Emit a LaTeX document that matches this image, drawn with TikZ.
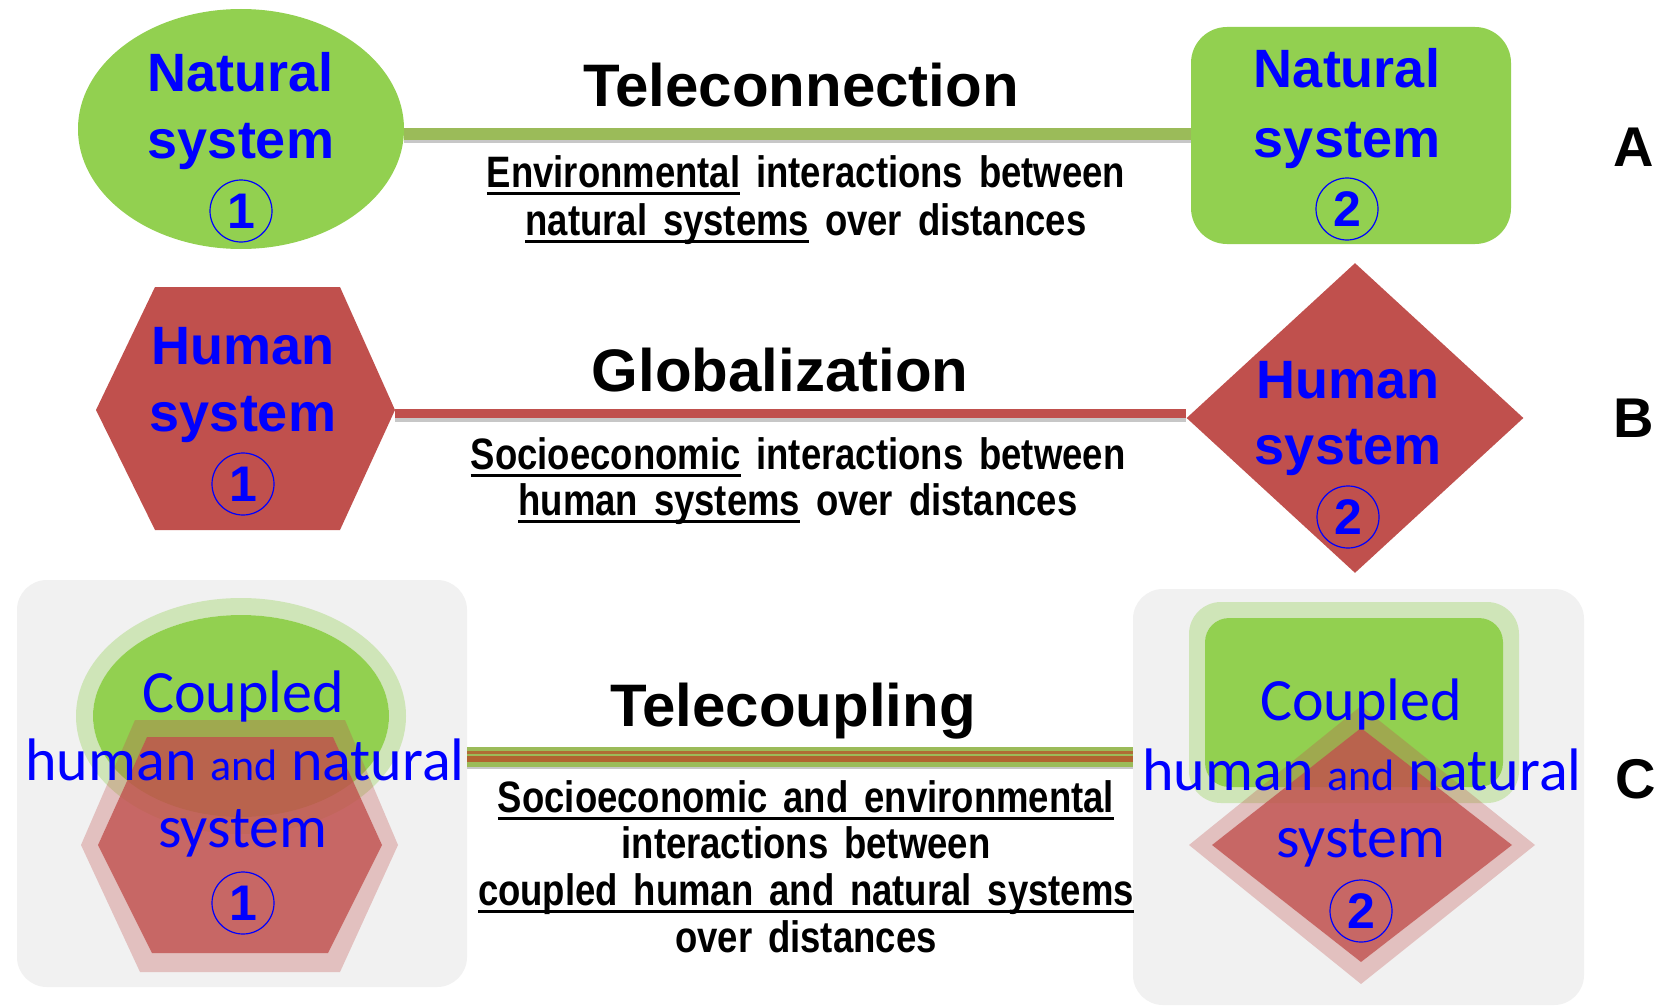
\documentclass[tikz,border=0pt]{standalone}
\usepackage{fontspec}
\setmainfont{Liberation Sans}
\newfontfamily\descfont{Liberation Sans}[FakeStretch=0.83]
\newfontfamily\calfont{Carlito}
\usetikzlibrary{shapes.geometric,backgrounds}
\definecolor{natgreen}{HTML}{92D050}
\definecolor{linegreen}{HTML}{9BBB59}
\definecolor{humred}{HTML}{C0504D}
\definecolor{boxgray}{HTML}{F1F1F1}
\definecolor{txtblue}{HTML}{0000FF}
\definecolor{brownline}{HTML}{B45A2C}
\newcommand{\ulx}[1]{\setbox0\hbox{#1}\rlap{\rule[-4pt]{\wd0}{1.3pt}}\box0\relax}
\newcommand{\widesp}{\spaceskip=0.36em\relax}
\newcommand{\descsize}{\descfont\bfseries\fontsize{22}{22}\selectfont\widesp}
\begin{document}
\begin{tikzpicture}[x=0.5pt,y=-0.5pt,
  sysl/.style={font=\bfseries\fontsize{27}{27}\selectfont, text=txtblue, anchor=base, inner sep=0},
  cpl/.style={font=\calfont\fontsize{30}{30}\selectfont, text=txtblue, anchor=base, inner sep=0},
  cnum/.style={circle, draw=txtblue, line width=0.6pt, minimum size=31pt, inner sep=0, text=txtblue, font=\bfseries\fontsize{25}{25}\selectfont},
  ttl/.style={font=\bfseries\fontsize{30}{30}\selectfont, anchor=base, inner sep=0},
  desc/.style={font=\descsize, anchor=base, inner sep=0},
  tag/.style={font=\bfseries\fontsize{28}{28}\selectfont, anchor=center, inner sep=0},
  shadowline/.style={black!22, line width=3pt}
]
\useasboundingbox (0,0) rectangle (1680,1006);
\begin{pgfonlayer}{background}
\fill[white] (0,0) rectangle (1680,1006);
\end{pgfonlayer}

% ---------- Row A ----------
\node[ellipse, fill=natgreen, minimum width=163pt, minimum height=120pt, inner sep=0] (natA1) at (241,129) {};
\node[rectangle, rounded corners=18pt, fill=natgreen, minimum width=160pt, minimum height=108.5pt, inner sep=0] (natA2) at (1351,135.5) {};
\coordinate (lineA) at (0,134);
\coordinate (lineAs) at (0,140);
\begin{pgfonlayer}{background}
\draw[shadowline] (natA1.east |- lineAs) -- (natA2.west |- lineAs);
\draw[linegreen, line width=5.5pt] (natA1.east |- lineA) -- (natA2.west |- lineA);
\end{pgfonlayer}
\node[sysl] (tA1a) at (241,92) {Natural};
\node[sysl] (tA1b) at (241,158) {system};
\node[cnum] (cA1) at (241,211) {1};
\node[sysl] (tA2a) at (1347,88) {Natural};
\node[sysl] (tA2b) at (1347,157) {system};
\node[cnum] (cA2) at (1347,209) {2};
\node[ttl] (ttlA) at (801,107) {Teleconnection};
\node[desc] (dA1) at (806,187) {\ulx{Environmental} interactions between};
\node[desc] (dA2) at (806,235) {\ulx{natural systems} over distances};
\node[tag] (labA) at (1634,147) {A};

% ---------- Row B ----------
\fill[humred] (155,287) -- (340,287) -- (395,410) -- (340,530) -- (155,530) -- (96,410) -- cycle;
\coordinate (hexB) at (395,410);
\node[shape=diamond, fill=humred, minimum width=168.5pt, minimum height=155pt, inner sep=0] (dmB) at (1355,418) {};
\coordinate (lineB) at (0,413);
\coordinate (lineBs) at (0,419);
\begin{pgfonlayer}{background}
\draw[shadowline] (hexB |- lineBs) -- (dmB.west |- lineBs);
\draw[humred, line width=4.5pt] (hexB |- lineB) -- (dmB.west |- lineB);
\end{pgfonlayer}
\node[sysl] (tB1a) at (243,364) {Human};
\node[sysl] (tB1b) at (243,431) {system};
\node[cnum] (cB1) at (243,484) {1};
\node[sysl] (tB2a) at (1348,398) {Human};
\node[sysl] (tB2b) at (1348,464) {system};
\node[cnum] (cB2) at (1348,517) {2};
\node[ttl] (ttlB) at (780,391) {Globalization};
\node[desc] (dB1) at (798,469) {\ulx{Socioeconomic} interactions between};
\node[desc] (dB2) at (798,515) {\ulx{human systems} over distances};
\node[tag] (labB) at (1634,418) {B};

% ---------- Row C ----------
\node[rectangle, rounded corners=15pt, fill=boxgray, minimum width=225pt, minimum height=203.5pt, inner sep=0] (boxL) at (242,783.5) {};
\node[rectangle, rounded corners=15pt, fill=boxgray, minimum width=225.5pt, minimum height=208pt, inner sep=0] (boxR) at (1358.5,797) {};
\coordinate (lineC) at (0,757);
\coordinate (lineC1) at (0,752);
\coordinate (lineC2) at (0,759);
\coordinate (lineCs) at (0,766);
\draw[shadowline] (boxL.east |- lineCs) -- (boxR.west |- lineCs);
\draw[linegreen, line width=10pt] (boxL.east |- lineC) -- (boxR.west |- lineC);
\draw[brownline, line width=1.5pt, opacity=0.8] (boxL.east |- lineC1) -- (boxR.west |- lineC1);
\draw[brownline, line width=3pt, opacity=0.9] (boxL.east |- lineC2) -- (boxR.west |- lineC2);

% left coupled system
\fill[natgreen, opacity=0.35, even odd rule] (241,716) ellipse [x radius=165, y radius=118] (241,716) ellipse [x radius=148, y radius=101];
\fill[natgreen] (241,716) ellipse [x radius=148, y radius=101];
\fill[humred, opacity=0.3, even odd rule]
  (135,720) -- (345,720) -- (398,845) -- (340,972) -- (140,972) -- (81,845) -- cycle
  (147,737) -- (333,737) -- (382,845) -- (328,953) -- (152,953) -- (98,845) -- cycle;
\fill[humred, opacity=0.85] (147,737) -- (333,737) -- (382,845) -- (328,953) -- (152,953) -- (98,845) -- cycle;

% right coupled system
\fill[natgreen, opacity=0.35, even odd rule, rounded corners=16pt] (1189,602) rectangle (1519,803) [rounded corners=12pt] (1205,618) rectangle (1503,787);
\fill[natgreen, rounded corners=12pt] (1205,618) rectangle (1503,787);
\fill[humred, opacity=0.3, even odd rule]
  (1361,706) -- (1535,845) -- (1361,984) -- (1189,845) -- cycle
  (1361,728) -- (1512,845) -- (1361,962) -- (1212,845) -- cycle;
\fill[humred, opacity=0.85] (1361,728) -- (1512,845) -- (1361,962) -- (1212,845) -- cycle;

\node[cpl] (tC1a) at (243,712) {Coupled};
\node[cpl] (tC1b) at (245,780) {human {\fontsize{22}{22}\selectfont and} natural};
\node[cpl] (tC1c) at (243,847) {system};
\node[cnum] (cC1) at (243,903) {1};
\node[cpl] (tC2a) at (1361,720) {Coupled};
\node[cpl] (tC2b) at (1362,790) {human {\fontsize{22}{22}\selectfont and} natural};
\node[cpl] (tC2c) at (1361,857) {system};
\node[cnum] (cC2) at (1361,911) {2};

\node[ttl] (ttlC) at (793,726) {Telecoupling};
\node[desc] (dC1) at (806,812) {\ulx{Socioeconomic and environmental}};
\node[desc] (dC2) at (806,858) {interactions between};
\node[desc] (dC3) at (806,905) {\ulx{coupled human and natural systems}};
\node[desc] (dC4) at (806,952) {over distances};
\node[tag] (labC) at (1636,779) {C};
\end{tikzpicture}
\end{document}
